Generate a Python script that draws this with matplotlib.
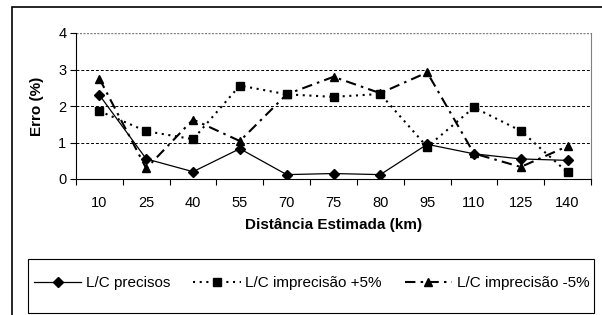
import matplotlib.pyplot as plt
from matplotlib.patches import Rectangle

plt.rcParams['font.family'] = ['Liberation Sans', 'DejaVu Sans']

distancias = ['10', '25', '40', '55', '70', '75', '80', '95', '110', '125', '140']
precisos = [2.30, 0.55, 0.20, 0.83, 0.12, 0.15, 0.12, 0.95, 0.69, 0.55, 0.51]
mais5 = [1.86, 1.31, 1.09, 2.56, 2.32, 2.25, 2.33, 0.88, 1.96, 1.32, 0.18]
menos5 = [2.75, 0.29, 1.63, 1.04, 2.32, 2.80, 2.35, 2.92, 0.70, 0.33, 0.90]

W, H = 602, 315
FS = 10.5
fig = plt.figure(figsize=(W/100, H/100), dpi=100)

# moldura exterior (cortada a direita e em baixo)
fig.patches.append(Rectangle((12/W, -0.05), 1.1, 1 - 7/H + 0.05, transform=fig.transFigure,
                             fill=False, edgecolor='black', lw=1.2))

ax = fig.add_axes([76/W, 1 - 179/H, 515/W, 146/H])
x = range(len(distancias))

ax.plot(x, precisos, color='black', lw=0.9, marker='D', ms=5, label='L/C precisos')
ax.plot(x, mais5, color='black', lw=1.5, ls=(0, (1, 2.2)), marker='s', ms=6,
        label='L/C imprecisão +5%')
ax.plot(x, menos5, color='black', lw=1.5, ls=(0, (5, 2.5, 1.2, 2.5)), marker='^', ms=6,
        label='L/C imprecisão -5%')

ax.set_xlim(-0.5, len(distancias) - 0.5)
ax.set_ylim(0, 4)
ax.set_yticks([0, 1, 2, 3, 4])
ax.set_xticks([i - 0.5 for i in range(len(distancias) + 1)])
ax.set_xticklabels([])
ax.set_xticks(list(x), minor=True)
ax.set_xticklabels(distancias, minor=True)
ax.tick_params(axis='x', which='minor', length=0, pad=12, labelsize=FS)
ax.tick_params(axis='x', which='major', direction='out', length=4, width=0.8)
ax.tick_params(axis='y', direction='out', length=4, width=0.8, labelsize=FS, pad=3)

for v in [1, 2, 3]:
    ax.axhline(v, color='black', lw=0.7, ls=(0, (3, 2)), zorder=0)
ax.axhline(4, color='gray', lw=1.0, ls=(0, (1.5, 1)), zorder=0)

ax.spines['top'].set_visible(False)
ax.spines['right'].set_color('gray')
ax.spines['left'].set_linewidth(0.8)
ax.spines['bottom'].set_linewidth(0.8)

ax.set_ylabel('Erro (%)', fontsize=FS + 0.5, fontweight='bold', labelpad=10)
ax.set_xlabel('Distância Estimada (km)', fontsize=FS + 0.5, fontweight='bold', labelpad=6)

# legenda
fig.patches.append(Rectangle((28/W, 1 - 313/H), (594 - 28)/W, (313 - 259)/H,
                             transform=fig.transFigure, fill=False, edgecolor='black', lw=0.8))
handles, labels = ax.get_legend_handles_labels()
fig.legend(handles, labels, loc='center left', bbox_to_anchor=(34/W, 1 - 283/H),
           ncol=3, frameon=False, fontsize=11, handlelength=3.1, handletextpad=0.3,
           columnspacing=1.5, borderaxespad=0, borderpad=0)

fig.savefig('out.png', dpi=100)
